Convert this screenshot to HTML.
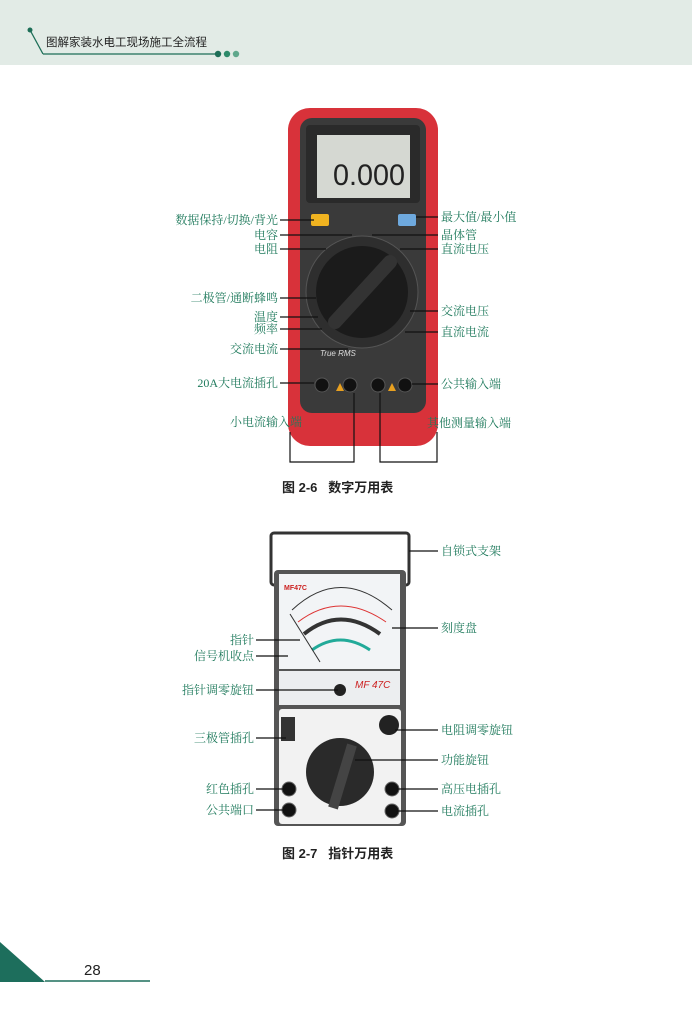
<!DOCTYPE html>
<html><head><meta charset="utf-8"><style>
*{margin:0;padding:0}
body{width:692px;height:1024px;position:relative;background:#fff;overflow:hidden;font-family:"Liberation Serif","Noto Serif CJK SC",serif}
.a{position:absolute}
.t{position:absolute;color:#1f7a5c;font-size:12px;line-height:14px;white-space:nowrap}
.r{text-align:right}
.cap{position:absolute;font-family:"Liberation Sans","Noto Sans CJK SC",sans-serif;font-weight:bold;font-size:13px;color:#222}
</style></head><body>
<div class="a" style="left:0;top:0;width:692px;height:65px;background:#e2ebe6"></div>
<svg class="a" style="left:0;top:0" width="692" height="1024">
<g stroke="#1d6e57" stroke-width="1.3" fill="none">
<line x1="30" y1="30" x2="43" y2="54"/><line x1="43" y1="54" x2="216" y2="54"/></g>
<circle cx="30" cy="30" r="2.5" fill="#1d6e57"/>
<circle cx="218" cy="54" r="3.2" fill="#1d6e57"/><circle cx="227" cy="54" r="3.2" fill="#2d8a6a"/><circle cx="236" cy="54" r="3.2" fill="#5fa88c"/>
<polygon points="0,942 0,982 45,982" fill="#1d6e5c"/>
<line x1="45" y1="981" x2="150" y2="981" stroke="#1d6e5c" stroke-width="1.5"/>

<rect x="288" y="108" width="150" height="338" rx="22" fill="#d8323a"/>
<rect x="300" y="118" width="126" height="295" rx="12" fill="#3a3a3a"/>
<rect x="306" y="125" width="114" height="78" rx="4" fill="#2a2a2a"/>
<rect x="317" y="135" width="93" height="63" fill="#d5d8d2"/>
<text x="333" y="185" font-family="Liberation Sans,sans-serif" font-size="30" fill="#222" textLength="72" lengthAdjust="spacingAndGlyphs">0.000</text>
<rect x="311" y="214" width="18" height="12" rx="2" fill="#f0b320"/>
<rect x="398" y="214" width="18" height="12" rx="2" fill="#6ea9de"/>
<circle cx="362" cy="292" r="56" fill="#2e2e2e" stroke="#555" stroke-width="1"/>
<circle cx="362" cy="292" r="46" fill="#1b1b1b"/>
<line x1="335" y1="322" x2="390" y2="262" stroke="#333" stroke-width="14" stroke-linecap="round"/>
<g fill="#111" stroke="#555"><circle cx="322" cy="385" r="7"/><circle cx="350" cy="385" r="7"/><circle cx="378" cy="385" r="7"/><circle cx="405" cy="385" r="7"/></g>
<polygon points="336,391 340,383 344,391" fill="#e8a020"/><polygon points="388,391 392,383 396,391" fill="#e8a020"/>
<text x="320" y="356" font-size="8" font-style="italic" fill="#ddd" font-family="Liberation Sans">True RMS</text>

<g stroke="#111" stroke-width="1.2" fill="none">
<line x1="280" y1="220" x2="314" y2="220"/><line x1="280" y1="235" x2="352" y2="235"/><line x1="280" y1="249" x2="326" y2="249"/>
<line x1="280" y1="298" x2="316" y2="298"/><line x1="280" y1="317" x2="318" y2="317"/><line x1="280" y1="329" x2="322" y2="329"/>
<line x1="280" y1="349" x2="348" y2="349"/><line x1="280" y1="383" x2="314" y2="383"/>
<line x1="416" y1="217" x2="438" y2="217"/><line x1="372" y1="235" x2="438" y2="235"/><line x1="400" y1="249" x2="438" y2="249"/>
<line x1="410" y1="311" x2="438" y2="311"/><line x1="405" y1="332" x2="438" y2="332"/><line x1="412" y1="384" x2="438" y2="384"/>
<polyline points="290,432 290,462 354,462 354,393"/><polyline points="437,432 437,462 380,462 380,393"/>
</g>

<rect x="271" y="533" width="138" height="52" rx="3" fill="none" stroke="#333" stroke-width="3"/>
<rect x="274" y="570" width="132" height="256" rx="4" fill="#555"/>
<rect x="279" y="574" width="121" height="95" fill="#f2f4f6"/>
<path d="M292,610 Q340,565 392,610" stroke="#333" fill="none" stroke-width="1"/>
<path d="M298,622 Q340,590 386,622" stroke="#d33" fill="none" stroke-width="1"/>
<path d="M304,634 Q340,605 380,634" stroke="#333" fill="none" stroke-width="4"/>
<path d="M312,650 Q340,630 370,650" stroke="#2a9" fill="none" stroke-width="3"/>
<line x1="290" y1="614" x2="320" y2="662" stroke="#333"/>
<text x="284" y="590" font-size="7" fill="#c22" font-family="Liberation Sans" font-weight="bold">MF47C</text>
<rect x="279" y="671" width="121" height="34" fill="#eceef0"/>
<circle cx="340" cy="690" r="6" fill="#222"/>
<text x="355" y="688" font-size="10" fill="#c22" font-style="italic" font-family="Liberation Sans">MF 47C</text>
<rect x="279" y="709" width="122" height="115" rx="3" fill="#f2f2f2"/>
<circle cx="389" cy="725" r="10" fill="#222"/>
<rect x="281" y="717" width="14" height="24" fill="#333"/>
<circle cx="340" cy="772" r="34" fill="#2a2a2a"/>
<line x1="333" y1="808" x2="352" y2="745" stroke="#444" stroke-width="10"/>
<g fill="#111" stroke="#666"><circle cx="289" cy="789" r="7"/><circle cx="289" cy="810" r="7"/><circle cx="392" cy="789" r="7"/><circle cx="392" cy="811" r="7"/></g>

<g stroke="#111" stroke-width="1.2" fill="none">
<line x1="409" y1="551" x2="438" y2="551"/><line x1="392" y1="628" x2="438" y2="628"/><line x1="395" y1="730" x2="438" y2="730"/>
<line x1="355" y1="760" x2="438" y2="760"/><line x1="396" y1="789" x2="438" y2="789"/><line x1="396" y1="811" x2="438" y2="811"/>
<line x1="256" y1="640" x2="300" y2="640"/><line x1="256" y1="656" x2="288" y2="656"/><line x1="256" y1="690" x2="338" y2="690"/>
<line x1="256" y1="738" x2="286" y2="738"/><line x1="256" y1="789" x2="286" y2="789"/><line x1="256" y1="810" x2="286" y2="810"/>
</g>
</svg>
<div class="a" style="left:46px;top:36px;font-family:'Liberation Sans','Noto Sans CJK SC',sans-serif;font-size:11.5px;line-height:14px;color:#222">图解家装水电工现场施工全流程</div>

<div class="t r" style="right:414px;top:213px">数据保持/切换/背光</div>
<div class="t r" style="right:414px;top:228px">电容</div>
<div class="t r" style="right:414px;top:242px">电阻</div>
<div class="t r" style="right:414px;top:291px">二极管/通断蜂鸣</div>
<div class="t r" style="right:414px;top:310px">温度</div>
<div class="t r" style="right:414px;top:322px">频率</div>
<div class="t r" style="right:414px;top:342px">交流电流</div>
<div class="t r" style="right:414px;top:376px">20A大电流插孔</div>
<div class="t" style="left:441px;top:210px">最大值/最小值</div>
<div class="t" style="left:441px;top:228px">晶体管</div>
<div class="t" style="left:441px;top:242px">直流电压</div>
<div class="t" style="left:441px;top:304px">交流电压</div>
<div class="t" style="left:441px;top:325px">直流电流</div>
<div class="t" style="left:441px;top:377px">公共输入端</div>
<div class="t" style="left:230px;top:415px">小电流输入端</div>
<div class="t" style="left:427px;top:416px">其他测量输入端</div>
<div class="cap" style="left:282px;top:477px">图 2-6&nbsp;&nbsp;&nbsp;数字万用表</div>

<div class="t" style="left:441px;top:544px">自锁式支架</div>
<div class="t" style="left:441px;top:621px">刻度盘</div>
<div class="t" style="left:441px;top:723px">电阻调零旋钮</div>
<div class="t" style="left:441px;top:753px">功能旋钮</div>
<div class="t" style="left:441px;top:782px">高压电插孔</div>
<div class="t" style="left:441px;top:804px">电流插孔</div>
<div class="t r" style="right:438px;top:633px">指针</div>
<div class="t r" style="right:438px;top:649px">信号机收点</div>
<div class="t r" style="right:438px;top:683px">指针调零旋钮</div>
<div class="t r" style="right:438px;top:731px">三极管插孔</div>
<div class="t r" style="right:438px;top:782px">红色插孔</div>
<div class="t r" style="right:438px;top:803px">公共端口</div>
<div class="cap" style="left:282px;top:843px">图 2-7&nbsp;&nbsp;&nbsp;指针万用表</div>

<div class="a" style="left:84px;top:962px;font-family:'Liberation Sans',sans-serif;font-size:15px;color:#222">28</div>
</body></html>
